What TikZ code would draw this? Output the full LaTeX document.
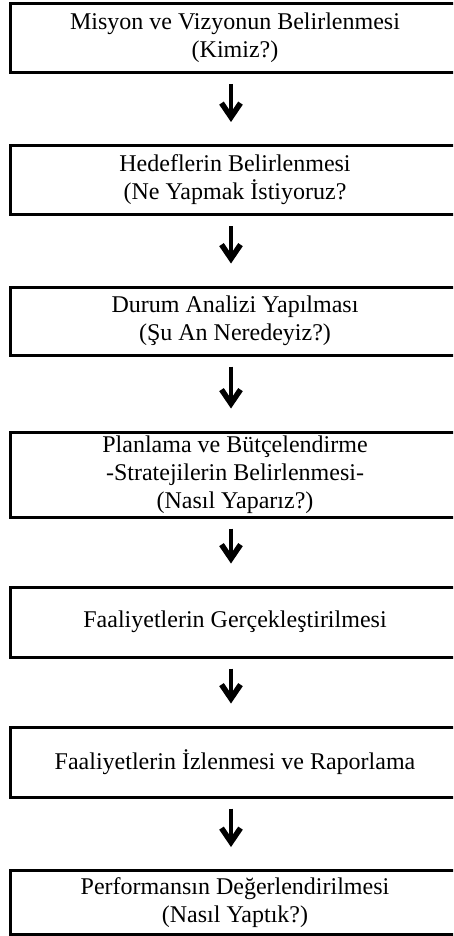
\documentclass[tikz,border=0pt]{standalone}
\usepackage{fontspec}
\setmainfont{Liberation Serif}
\usetikzlibrary{arrows.meta}

\begin{document}
\begin{tikzpicture}[x=1pt, y=-1pt,
	stagebox/.style={draw, line width=3pt, minimum width=449pt, align=center, inner sep=0pt, font=\fontsize{24}{28}\selectfont},
	flowarrow/.style={line width=4pt, -{Straight Barb[length=14pt, width=19pt, line width=5.5pt]}}]
	\useasboundingbox (0,0) rectangle (453,936);
	\clip (0,0) rectangle (453,936);
	\node[stagebox, minimum height=69pt] (misyon) at (235,38) {Misyon ve Vizyonun Belirlenmesi\\(Kimiz?)};
	\node[stagebox, minimum height=69pt] (hedef) at (235,180) {Hedeflerin Belirlenmesi\\(Ne Yapmak İstiyoruz?};
	\node[stagebox, minimum height=68pt] (durum) at (235,321) {Durum Analizi Yapılması\\(Şu An Neredeyiz?)};
	\node[stagebox, minimum height=85pt] (plan) at (235,474.5) {Planlama ve Bütçelendirme\\-Stratejilerin Belirlenmesi-\\(Nasıl Yaparız?)};
	\node[stagebox, minimum height=70pt] (uygulama) at (235,622) {Faaliyetlerin Gerçekleştirilmesi};
	\node[stagebox, minimum height=70pt] (izleme) at (235,762) {Faaliyetlerin İzlenmesi ve Raporlama};
	\node[stagebox, minimum height=64pt] (degerlendirme) at (235,902.5) {Performansın Değerlendirilmesi\\(Nasıl Yaptık?)};
	\draw[flowarrow] ([xshift=-4pt, yshift=-10pt]misyon.south) -- ([xshift=-4pt, yshift=22pt]hedef.north);
	\draw[flowarrow] ([xshift=-4pt, yshift=-10pt]hedef.south) -- ([xshift=-4pt, yshift=22pt]durum.north);
	\draw[flowarrow] ([xshift=-4pt, yshift=-10pt]durum.south) -- ([xshift=-4pt, yshift=22pt]plan.north);
	\draw[flowarrow] ([xshift=-4pt, yshift=-10pt]plan.south) -- ([xshift=-4pt, yshift=22pt]uygulama.north);
	\draw[flowarrow] ([xshift=-4pt, yshift=-10pt]uygulama.south) -- ([xshift=-4pt, yshift=22pt]izleme.north);
	\draw[flowarrow] ([xshift=-4pt, yshift=-10pt]izleme.south) -- ([xshift=-4pt, yshift=22pt]degerlendirme.north);
\end{tikzpicture}
\end{document}
